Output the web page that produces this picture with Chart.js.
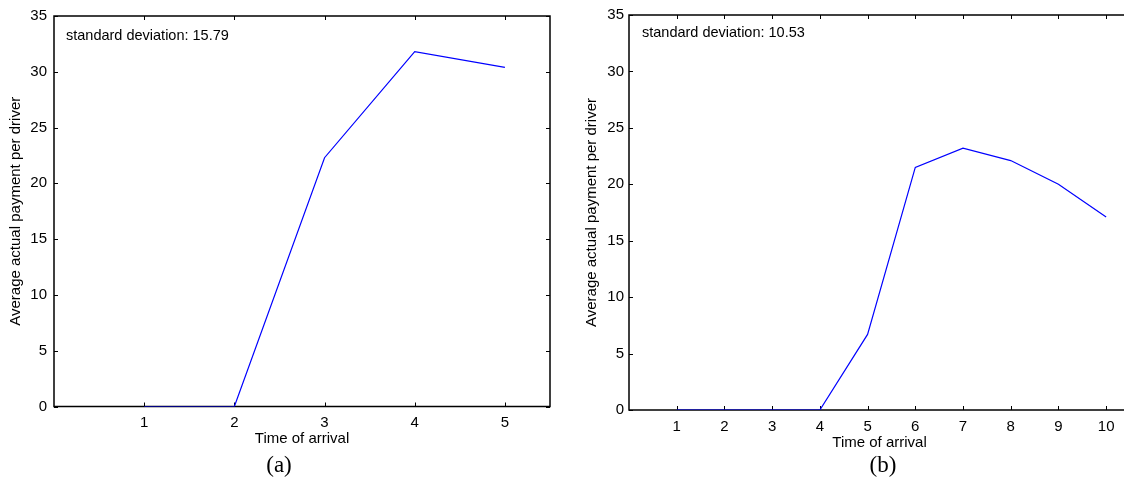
<!DOCTYPE html>
<html><head><meta charset="utf-8">
<script src="https://cdn.jsdelivr.net/npm/chart.js@4"></script>
<style>
html,body{margin:0;padding:0;background:#fff;overflow:hidden;width:1124px;height:485px;position:relative;}
.wrap{position:absolute;top:0;height:485px;}
canvas{display:block;}
</style></head><body>
<div class="wrap" style="left:0;width:562px"><canvas id="ca" width="562" height="485"></canvas></div>
<div class="wrap" style="left:562px;width:570px"><canvas id="cb" width="570" height="485"></canvas></div>
<script>
// ---- data ----
const categoriesA = [1, 2, 3, 4, 5];
const paymentA = [0, 0, 22.3, 31.8, 30.4];
const categoriesB = [1, 2, 3, 4, 5, 6, 7, 8, 9, 10];
const paymentB = [0, 0, 0, 0, 6.7, 21.5, 23.2, 22.1, 20.0, 17.1];
const xTicksA = [1, 2, 3, 4, 5];
const xTicksB = [1, 2, 3, 4, 5, 6, 7, 8, 9, 10];
const yTicks = [0, 5, 10, 15, 20, 25, 30, 35];
const stdTextA = 'standard deviation: 15.79';
const stdTextB = 'standard deviation: 10.53';
const captionA = '(a)';
const captionB = '(b)';
const xTitle = 'Time of arrival';
const yTitle = 'Average actual payment per driver';

const SANS = '"Liberation Sans", Arial, Helvetica, sans-serif';

const decor = {
  id: 'decor',
  beforeDatasetsDraw(chart) {
    const {ctx, chartArea: a, scales: {x, y}} = chart;
    ctx.save();
    ctx.strokeStyle = '#000';
    ctx.lineWidth = 1;
    const tl = 4;
    ctx.beginPath();
    x.ticks.forEach(t => {
      const px = Math.round(x.getPixelForValue(t.value)) + 0.5;
      ctx.moveTo(px, a.bottom); ctx.lineTo(px, a.bottom - tl);
      ctx.moveTo(px, a.top); ctx.lineTo(px, a.top + tl);
    });
    y.ticks.forEach(t => {
      const py = Math.round(y.getPixelForValue(t.value)) + 0.5;
      ctx.moveTo(a.left, py); ctx.lineTo(a.left + tl, py);
      ctx.moveTo(a.right, py); ctx.lineTo(a.right - tl, py);
    });
    ctx.stroke();
    ctx.lineWidth = 1.5;
    ctx.strokeRect(a.left, a.top, a.right - a.left, a.bottom - a.top);
    ctx.restore();
  },
  afterDraw(chart, args, opts) {
    const {ctx, chartArea: a} = chart;
    ctx.save();
    ctx.fillStyle = '#000';
    ctx.font = '14.5px ' + SANS;
    ctx.textBaseline = 'middle';
    ctx.textAlign = 'left';
    ctx.fillText(opts.text, a.left + opts.tx, a.top + opts.ty);
    ctx.font = '23px "Liberation Serif", "Times New Roman", serif';
    ctx.textAlign = 'center';
    ctx.fillText(opts.caption, opts.capX, opts.capY);
    ctx.restore();
  }
};

function makeChart(id, cats, vals, xTicks, xMax, yW, padRight, xH, lblPad, xTitlePad, yTitlePad, yLblPad, deco) {
  const data = cats.map((c, i) => ({x: c, y: vals[i]}));
  return new Chart(document.getElementById(id), {
    type: 'line',
    data: {datasets: [{data, borderColor: '#0000ff', borderWidth: 1.2, pointRadius: 0, tension: 0, fill: false}]},
    options: {
      responsive: false, animation: false,
      layout: {padding: {top: 15, left: 0, right: padRight, bottom: 33}},
      plugins: {legend: {display: false}, tooltip: {enabled: false}, decor: deco},
      scales: {
        x: {
          type: 'linear', min: 0, max: xMax,
          grid: {display: false, drawTicks: false}, border: {display: false},
          afterBuildTicks: s => { s.ticks = xTicks.map(v => ({value: v})); },
          afterFit: s => { s.height = xH; },
          ticks: {autoSkip: false, maxRotation: 0, padding: lblPad, color: '#000', font: {family: SANS, size: 15}},
          title: {display: true, text: xTitle, color: '#000', font: {family: SANS, size: 15}, padding: {top: 0, bottom: xTitlePad}}
        },
        y: {
          min: 0, max: 35,
          grid: {display: false, drawTicks: false}, border: {display: false},
          afterBuildTicks: s => { s.ticks = yTicks.map(v => ({value: v})); },
          afterFit: s => { s.width = yW; },
          ticks: {padding: yLblPad, color: '#000', font: {family: SANS, size: 15}},
          title: {display: true, text: yTitle, color: '#000', font: {family: SANS, size: 15}, padding: {top: yTitlePad, bottom: 0}}
        }
      }
    },
    plugins: [decor]
  });
}

makeChart('ca', categoriesA, paymentA, xTicksA, 5.5, 54, 12, 45.5, 7, 4, 7, 7,
  {text: stdTextA, tx: 12, ty: 20, caption: captionA, capX: 279, capY: 466});
makeChart('cb', categoriesB, paymentB, xTicksB, 10.5, 67, 2, 42, 8, 0, 21, 5,
  {text: stdTextB, tx: 13, ty: 18, caption: captionB, capX: 321, capY: 466});
</script>
</body></html>
